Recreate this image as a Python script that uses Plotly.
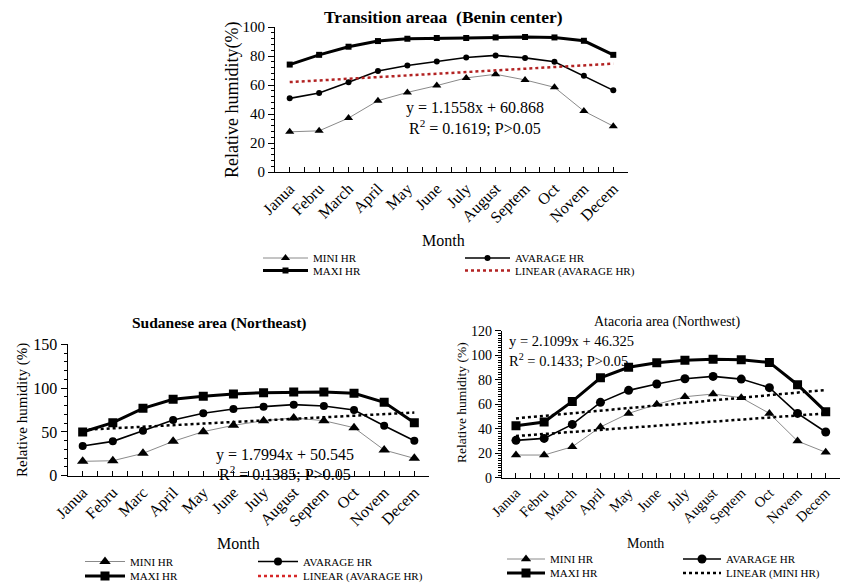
import plotly.graph_objects as go

W, H = 842, 583
FONT = "Liberation Serif"

# ---------------- data ----------------
MONTHS_TOP = ["Janua", "Febru", "March", "April", "May", "June", "July",
              "August", "Septem", "Oct", "Novem", "Decem"]
MONTHS_SUD = ["Janua", "Febru", "Marc", "April", "May", "June", "July",
              "August", "Septem", "Oct", "Novem", "Decem"]
MONTHS_ATA = ["Janua", "Febru", "March", "April", "May", "June", "July",
              "August", "Septem", "Oct", "Novem", "Decem"]

TOP_MINI = [27.7, 28.4, 37.2, 49.2, 54.9, 59.6, 64.9, 67.4, 63.5, 58.4, 42.0, 31.6]
TOP_AVG = [50.8, 54.5, 61.9, 69.7, 73.4, 76.2, 79.0, 80.4, 78.7, 76.0, 66.3, 56.3]
TOP_MAXI = [74.1, 80.8, 86.4, 90.3, 91.9, 92.4, 92.4, 92.8, 93.1, 92.8, 90.5, 80.8]
TOP_AVG_TREND = [62.0, 74.7]          # Janua, Decem

SUD_MINI = [16.4, 17.1, 25.5, 39.2, 50.3, 57.5, 62.8, 65.9, 62.8, 54.8, 29.3, 19.8]
SUD_AVG = [33.9, 39.2, 51.4, 63.6, 71.2, 76.1, 78.8, 81.1, 79.6, 75.0, 57.1, 40.0]
SUD_MAXI = [49.9, 60.5, 76.9, 87.2, 90.6, 93.3, 94.8, 95.6, 95.6, 94.0, 83.8, 60.5]
SUD_AVG_TREND = [52.3, 72.1]

ATA_MINI = [18.5, 18.5, 25.3, 41.4, 52.5, 59.9, 66.1, 68.3, 65.3, 52.5, 29.9, 20.7]
ATA_AVG = [30.5, 32.1, 43.5, 61.5, 71.3, 76.5, 80.8, 82.7, 80.5, 73.5, 52.5, 37.3]
ATA_MAXI = [42.4, 45.4, 62.3, 81.6, 90.1, 93.9, 95.8, 96.6, 96.3, 94.1, 75.9, 53.9]
ATA_AVG_TREND = [48.4, 71.6]
ATA_MINI_TREND = [34.0, 52.5]

LEG_MINI = "MINI HR"
LEG_AVG = "AVARAGE HR"
LEG_MAXI = "MAXI HR"
LEG_LIN_AVG = "LINEAR (AVARAGE HR)"
LEG_LIN_MINI = "LINEAR (MINI HR)"


def px(x):
    return x / W


def py(y):
    return 1 - y / H


fig = go.Figure()


def series(months, vals, xa, ya, name, legend, line, marker, showlegend=True):
    idx = list(range(len(months)))
    fig.add_trace(go.Scatter(
        x=idx, y=vals, mode="lines+markers",
        name=name, line=line, marker=marker,
        xaxis=xa, yaxis=ya, legend=legend, showlegend=showlegend,
        hoverinfo="skip"))


def trend(months, ends, xa, ya, name, legend, color, showlegend=True, width=2.5):
    fig.add_trace(go.Scatter(
        x=[0, len(months) - 1], y=ends, mode="lines", name=name,
        line=dict(color=color, width=width, dash="dot"),
        xaxis=xa, yaxis=ya, legend=legend, showlegend=showlegend,
        hoverinfo="skip"))


# ---- top chart ----
series(MONTHS_TOP, TOP_MINI, "x", "y", LEG_MINI, "legend",
       dict(color="#8a8a8a", width=1), dict(symbol="triangle-up", size=8, color="black"))
series(MONTHS_TOP, TOP_AVG, "x", "y", LEG_AVG, "legend2",
       dict(color="black", width=1.6), dict(symbol="circle", size=6, color="black"))
series(MONTHS_TOP, TOP_MAXI, "x", "y", LEG_MAXI, "legend3",
       dict(color="black", width=3), dict(symbol="square", size=6, color="black"))
trend(MONTHS_TOP, TOP_AVG_TREND, "x", "y", LEG_LIN_AVG, "legend4", "#b22222")

# ---- Sudanese ----
series(MONTHS_SUD, SUD_MINI, "x2", "y2", LEG_MINI, "legend5",
       dict(color="#8a8a8a", width=1), dict(symbol="triangle-up", size=10, color="black"))
series(MONTHS_SUD, SUD_AVG, "x2", "y2", LEG_AVG, "legend6",
       dict(color="black", width=1.6), dict(symbol="circle", size=8, color="black"))
series(MONTHS_SUD, SUD_MAXI, "x2", "y2", LEG_MAXI, "legend7",
       dict(color="black", width=3), dict(symbol="square", size=9, color="black"))
trend(MONTHS_SUD, SUD_AVG_TREND, "x2", "y2", LEG_LIN_AVG, "legend8", "black",
      showlegend=False)
# legend entry (drawn red in the original legend)
fig.add_trace(go.Scatter(x=[None], y=[None], mode="lines", name=LEG_LIN_AVG,
                         line=dict(color="#d62728", width=2.5, dash="dot"),
                         xaxis="x2", yaxis="y2", legend="legend8"))

# ---- Atacoria ----
series(MONTHS_ATA, ATA_MINI, "x3", "y3", LEG_MINI, "legend9",
       dict(color="#8a8a8a", width=1), dict(symbol="triangle-up", size=9, color="black"))
series(MONTHS_ATA, ATA_AVG, "x3", "y3", LEG_AVG, "legend10",
       dict(color="black", width=1.6), dict(symbol="circle", size=9, color="black"))
series(MONTHS_ATA, ATA_MAXI, "x3", "y3", LEG_MAXI, "legend11",
       dict(color="black", width=3), dict(symbol="square", size=9, color="black"))
trend(MONTHS_ATA, ATA_AVG_TREND, "x3", "y3", "", "legend12", "black", showlegend=False)
trend(MONTHS_ATA, ATA_MINI_TREND, "x3", "y3", LEG_LIN_MINI, "legend12", "black")


def xaxis(months, dom, anchor, size):
    return dict(domain=dom, anchor=anchor, range=[-0.5, len(months) - 0.5],
                tickmode="array", tickvals=list(range(len(months))), ticktext=months,
                tickangle=-45, ticks="inside", ticklen=5, tickcolor="black",
                minor=dict(tick0=0.5, dtick=1, ticks="inside", ticklen=5, tickcolor="black"),
                showline=True, linecolor="black", linewidth=1.2, showgrid=False,
                zeroline=False, tickfont=dict(family=FONT, size=size, color="black"),
                automargin=False, fixedrange=True)


def yaxis(rng, dtick, minor, dom, anchor, size):
    return dict(domain=dom, anchor=anchor, range=rng, dtick=dtick, tick0=0,
                ticks="outside", ticklen=6, tickcolor="black",
                minor=dict(dtick=minor, tick0=0, ticks="outside", ticklen=3, tickcolor="black"),
                showline=True, linecolor="black", linewidth=1.2, showgrid=False,
                zeroline=False, tickfont=dict(family=FONT, size=size, color="black"),
                automargin=False, fixedrange=True)


layout = dict(
    width=W, height=H, autosize=False,
    margin=dict(l=0, r=0, t=0, b=0, pad=0, autoexpand=False),
    paper_bgcolor="white", plot_bgcolor="white",
    font=dict(family=FONT, color="black"),
    xaxis=xaxis(MONTHS_TOP, [px(275), px(628)], "y", 16),
    yaxis=yaxis([0, 100], 20, 4, [py(172), py(27)], "x", 15),
    xaxis2=xaxis(MONTHS_SUD, [px(67.6), px(429.4)], "y2", 16),
    yaxis2=yaxis([0, 150], 50, 10, [py(475.7), py(344.3)], "x2", 16),
    xaxis3=xaxis(MONTHS_ATA, [px(501.9), px(839.8)], "y3", 14.5),
    yaxis3=yaxis([0, 120], 20, 2, [py(477.7), py(330.7)], "x3", 14),
)

# legends: (id, line-start x, row y, symbol width)
LEG_POS = [
    ("legend", 263, 258, 45), ("legend2", 465, 258, 45),
    ("legend3", 263, 270.5, 45), ("legend4", 465, 270.5, 45),
    ("legend5", 85, 561.5, 40), ("legend6", 258, 561.5, 40),
    ("legend7", 85, 576, 40), ("legend8", 258, 576, 40),
    ("legend9", 507, 559, 38), ("legend10", 683, 559, 38),
    ("legend11", 507, 573, 38), ("legend12", 683, 573, 38),
]
for lid, lx, ly, iw in LEG_POS:
    layout[lid] = dict(x=px(lx - 5), y=py(ly), xanchor="left", yanchor="middle",
                       xref="paper", yref="paper", bgcolor="rgba(0,0,0,0)",
                       orientation="h", itemwidth=iw,
                       font=dict(family=FONT, size=11, color="black"),
                       itemclick=False, itemdoubleclick=False)

fig.update_layout(**layout)


def ann(text, x, y, size, bold=False, angle=0, xanchor="center"):
    fig.add_annotation(text=f"<b>{text}</b>" if bold else text,
                       x=px(x), y=py(y), xref="paper", yref="paper",
                       xanchor=xanchor, yanchor="middle", showarrow=False,
                       textangle=angle, font=dict(family=FONT, size=size, color="black"))


# titles
ann("Transition areaa\u00a0 (Benin center)", 443, 17, 17.5, bold=True)
ann("Sudanese area (Northeast)", 220, 323, 15.5, bold=True)
ann("Atacoria area (Northwest)", 667, 322, 14)
# axis titles
ann("Relative humidity(%)", 232, 100, 18, angle=-90)
ann("Relative humidity (%)", 22, 410, 15, angle=-90)
ann("Relative humidity (%)", 462, 403, 13.5, angle=-90)
ann("Month", 443, 240, 16)
ann("Month", 238, 543, 16)
ann("Month", 645, 543, 14)
# regression texts
ann("y = 1.1558x + 60.868", 475, 108, 16)
ann("R<sup>2</sup> = 0.1619; P&gt;0.05", 475, 127, 16)
ann("y = 1.7994x + 50.545", 285, 455, 16)
ann("R<sup>2</sup> = 0.1385; P&gt;0.05", 285, 473, 16)
ann("y = 2.1099x + 46.325", 507, 341, 14.5, xanchor="left")
ann("R<sup>2</sup> = 0.1433; P&gt;0.05", 507, 360, 14.5, xanchor="left")

fig.write_html("out.html", config={"displayModeBar": False},
               post_script="document.body.style.margin='0';document.body.style.overflow='hidden';")
